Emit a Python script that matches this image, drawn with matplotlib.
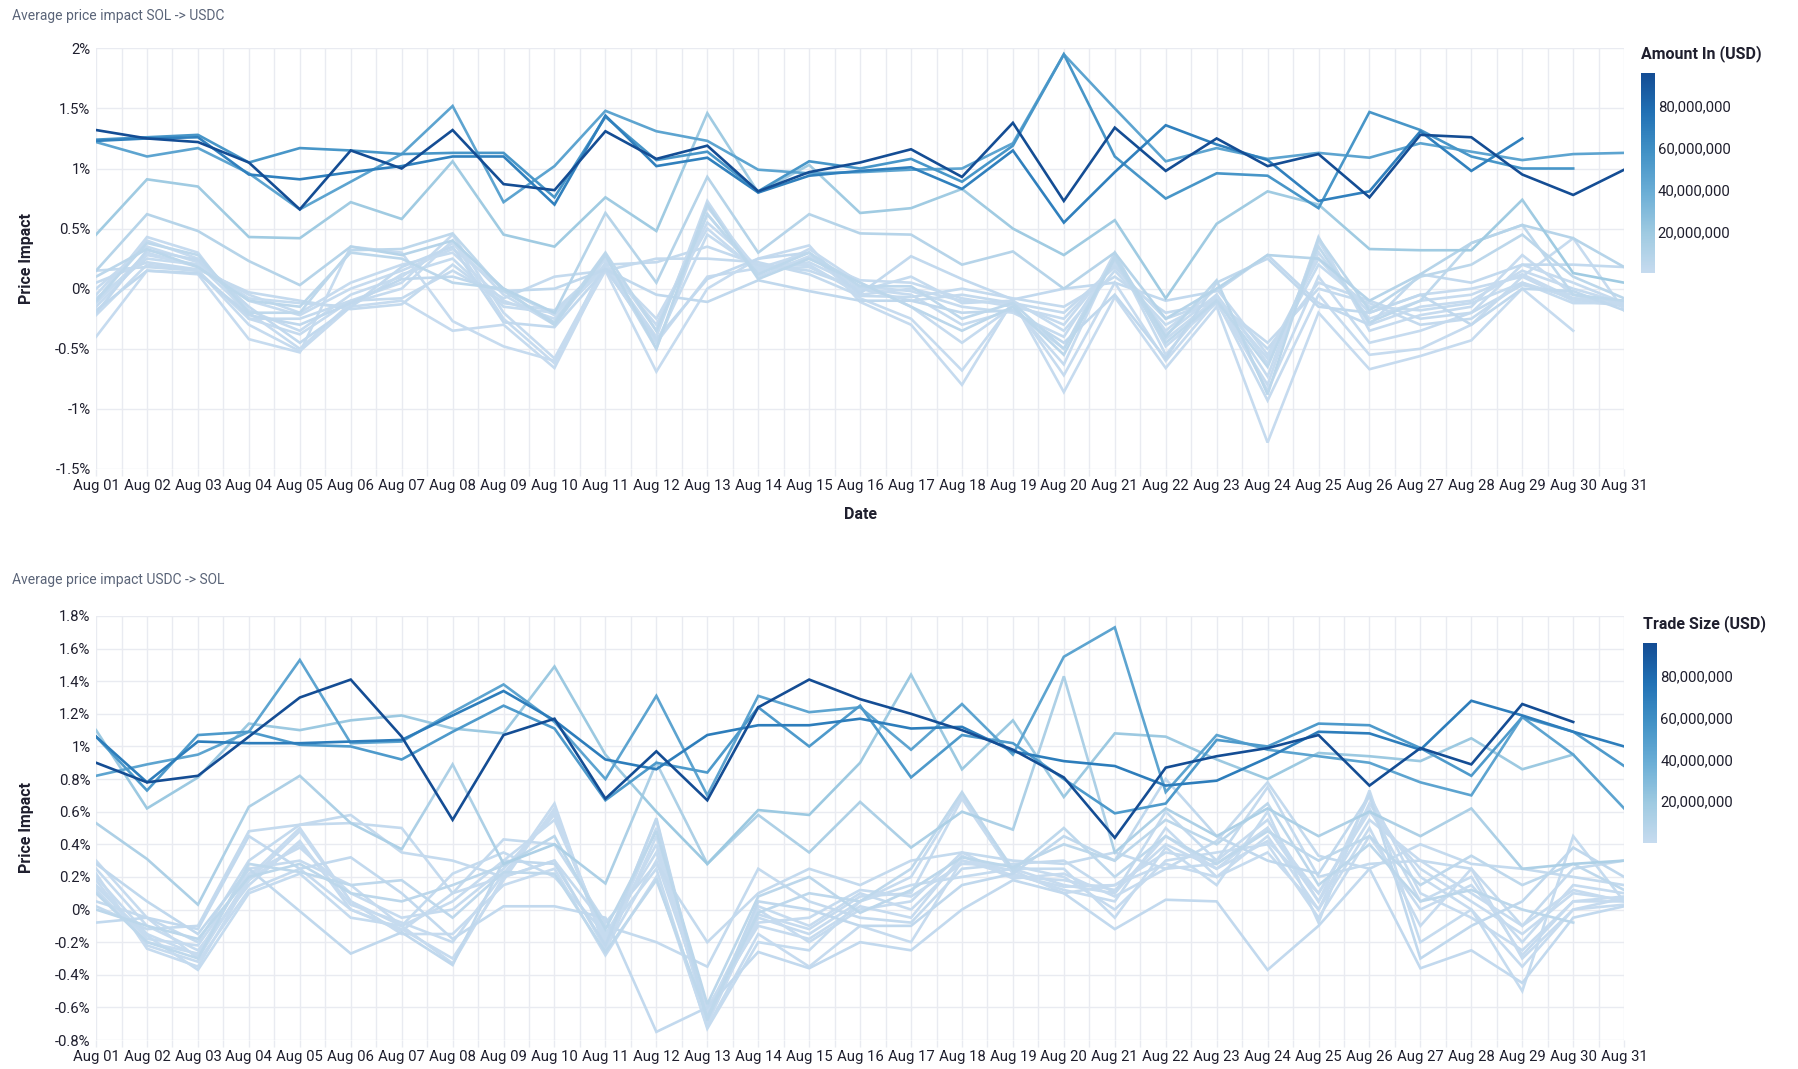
import matplotlib
matplotlib.use("Agg")
import matplotlib.pyplot as plt
import numpy as np
from matplotlib.colors import LinearSegmentedColormap, Normalize
from matplotlib.ticker import FuncFormatter, MultipleLocator
import matplotlib.cm as cm

nan = np.nan
days = list(range(1, 32))
day_labels = ["Aug %02d" % d for d in days]

# ---- SOL -> USDC : trade size (USD) and average price impact (%) per day ----
sell_sizes = [1000, 5000, 10000, 25000, 50000, 100000, 250000, 500000, 750000,
              1000000, 2000000, 3000000, 4000000, 5000000,
              8000000, 18000000, 45000000, 55000000, 68000000, 95000000]
sell_impact = [
    [-0.40, 0.15, 0.12, -0.42, -0.53, 0.35, 0.30, -0.27, -0.48, -0.60, 0.15, -0.69, 0.00, 0.25, 0.36, -0.11, -0.30, -0.80, -0.10, -0.86, -0.07, -0.66, -0.15, -1.28, -0.20, -0.67, -0.56, -0.43, 0.00, -0.35, nan],
    [-0.22, 0.20, 0.15, -0.30, -0.52, -0.15, -0.10, -0.35, -0.30, -0.66, 0.18, -0.45, 0.10, 0.17, 0.30, -0.08, -0.25, -0.68, -0.12, -0.72, 0.05, -0.60, -0.10, -0.93, -0.05, -0.55, -0.50, -0.30, 0.10, 0.42, -0.18],
    [-0.15, 0.28, 0.20, -0.20, -0.50, -0.12, 0.00, 0.40, -0.25, -0.62, 0.22, -0.50, 0.62, 0.12, 0.33, 0.05, -0.15, -0.45, -0.15, -0.63, 0.28, -0.55, -0.05, -0.85, 0.10, -0.45, -0.35, -0.20, 0.20, 0.05, -0.12],
    [-0.10, 0.43, 0.30, -0.25, -0.38, -0.10, 0.05, 0.45, -0.20, -0.58, 0.20, -0.40, 0.73, 0.10, 0.27, 0.00, -0.05, -0.30, -0.18, -0.50, 0.30, -0.48, -0.12, -0.80, 0.43, -0.35, -0.22, -0.15, 0.28, -0.05, -0.15],
    [-0.05, 0.40, 0.25, -0.18, -0.35, -0.05, 0.10, 0.38, -0.05, -0.30, 0.25, -0.35, 0.68, 0.15, 0.22, 0.02, -0.02, -0.15, -0.20, -0.40, 0.25, -0.42, -0.08, -0.73, 0.40, -0.30, -0.15, -0.10, 0.15, 0.00, -0.12],
    [0.00, 0.35, 0.22, -0.10, -0.22, 0.00, 0.15, 0.33, 0.00, -0.22, 0.20, -0.30, 0.55, 0.18, 0.20, -0.05, 0.00, -0.10, -0.12, -0.30, 0.22, -0.38, -0.05, -0.62, 0.30, -0.25, -0.10, -0.05, 0.12, -0.08, -0.10],
    [-0.12, 0.30, 0.18, -0.05, -0.20, 0.05, 0.20, 0.30, -0.10, -0.25, 0.18, -0.25, 0.50, 0.14, 0.25, 0.07, 0.05, -0.08, -0.15, -0.25, 0.20, -0.35, 0.00, -0.55, 0.25, -0.20, -0.05, 0.00, 0.10, -0.10, -0.14],
    [-0.08, 0.25, 0.20, -0.08, -0.12, -0.15, 0.12, 0.25, -0.15, -0.20, 0.17, -0.45, 0.45, 0.16, 0.18, -0.02, 0.10, -0.12, -0.10, -0.35, 0.15, -0.30, -0.08, -0.58, 0.20, -0.15, -0.18, -0.12, 0.05, -0.12, -0.12],
    [0.05, 0.22, 0.16, -0.03, -0.10, -0.17, -0.13, 0.20, -0.12, -0.18, 0.20, 0.22, 0.35, 0.20, 0.15, 0.00, -0.10, -0.05, -0.12, -0.20, 0.18, -0.25, -0.10, -0.50, 0.05, -0.10, -0.25, -0.20, 0.03, -0.05, -0.12],
    [0.15, 0.18, 0.15, -0.25, -0.25, -0.10, -0.08, 0.15, -0.08, 0.10, 0.15, 0.25, 0.25, 0.22, 0.12, -0.06, -0.07, 0.00, -0.08, -0.15, 0.10, -0.20, -0.12, -0.45, 0.00, -0.12, -0.30, -0.25, 0.05, -0.08, -0.14],
    [-0.20, 0.32, 0.24, -0.15, -0.45, -0.15, 0.18, 0.35, -0.28, -0.32, 0.16, -0.42, 0.08, 0.25, 0.30, -0.04, 0.27, 0.08, -0.09, 0.00, 0.05, -0.10, -0.02, 0.28, -0.12, -0.30, 0.12, 0.05, 0.20, 0.20, 0.18],
    [-0.18, 0.15, 0.13, -0.22, -0.30, -0.12, 0.08, 0.10, -0.02, 0.00, 0.16, -0.05, -0.11, 0.07, -0.02, -0.10, -0.10, -0.20, -0.18, -0.45, -0.05, -0.58, 0.05, 0.25, -0.15, -0.20, -0.05, -0.30, 0.00, -0.02, -0.18],
    [-0.10, 0.38, 0.28, -0.20, -0.20, 0.32, 0.33, 0.46, -0.02, -0.28, 0.30, -0.35, 0.62, 0.12, 0.30, 0.02, 0.02, -0.25, -0.12, -0.50, 0.25, -0.45, -0.10, -0.65, 0.35, -0.28, -0.10, 0.38, 0.53, -0.05, -0.10],
    [0.10, 0.33, 0.18, -0.10, -0.15, 0.30, 0.25, 0.05, 0.00, -0.30, 0.28, -0.50, 0.70, 0.08, 0.25, 0.05, -0.15, -0.35, -0.15, -0.55, 0.27, -0.40, 0.07, -0.88, 0.42, -0.18, 0.10, 0.20, 0.45, 0.10, -0.08],
    [0.15, 0.62, 0.48, 0.23, 0.03, 0.35, 0.28, 0.40, 0.00, -0.20, 0.63, 0.05, 0.93, 0.30, 0.62, 0.46, 0.45, 0.20, 0.31, 0.00, 0.30, -0.25, 0.00, 0.28, 0.25, -0.10, 0.12, 0.38, 0.53, 0.42, 0.18],
    [0.45, 0.91, 0.85, 0.43, 0.42, 0.72, 0.58, 1.06, 0.45, 0.35, 0.76, 0.48, 1.46, 0.80, 1.03, 0.63, 0.67, 0.83, 0.50, 0.28, 0.57, -0.08, 0.54, 0.81, 0.70, 0.33, 0.32, 0.32, 0.74, 0.13, 0.05],
    [1.22, 1.10, 1.17, 0.96, 0.66, 0.89, 1.12, 1.52, 0.72, 1.02, 1.48, 1.31, 1.23, 0.99, 0.96, 0.97, 0.99, 1.00, 1.21, 1.95, 1.50, 1.06, 1.17, 1.08, 1.13, 1.09, 1.21, 1.14, 1.07, 1.12, 1.13],
    [1.24, 1.26, 1.28, 1.05, 1.17, 1.15, 1.12, 1.13, 1.13, 0.76, 1.43, 1.07, 1.14, 0.81, 1.06, 1.00, 1.08, 0.89, 1.19, 1.95, 1.10, 0.75, 0.96, 0.94, 0.67, 1.47, 1.32, 1.10, 1.00, 1.00, nan],
    [1.23, 1.25, 1.26, 0.95, 0.91, 0.97, 1.02, 1.10, 1.10, 0.70, 1.44, 1.02, 1.09, 0.80, 0.94, 0.98, 1.01, 0.83, 1.15, 0.55, 0.97, 1.36, 1.20, 1.07, 0.73, 0.81, 1.31, 0.98, 1.25, nan, nan],
    [1.32, 1.25, 1.22, 1.05, 0.66, 1.15, 1.00, 1.32, 0.87, 0.82, 1.31, 1.08, 1.19, 0.81, 0.97, 1.05, 1.16, 0.93, 1.38, 0.73, 1.34, 0.98, 1.25, 1.02, 1.12, 0.76, 1.28, 1.26, 0.95, 0.78, 0.99],
]

# ---- USDC -> SOL ----
buy_sizes = [1000, 5000, 10000, 25000, 50000, 100000, 250000, 500000, 750000,
             1000000, 2000000, 3000000, 4000000, 5000000,
             12000000, 20000000, 45000000, 52000000, 70000000, 95000000]
buy_impact = [
    [0.30, -0.05, -0.30, 0.20, 0.50, 0.05, -0.10, -0.33, 0.20, 0.65, -0.25, 0.45, -0.65, -0.05, -0.15, 0.05, 0.20, 0.70, 0.25, 0.15, 0.10, 0.45, 0.25, 0.50, 0.05, 0.70, 0.10, -0.05, -0.25, 0.05, 0.05],
    [0.25, -0.10, -0.25, 0.15, 0.42, 0.00, -0.12, -0.30, 0.18, 0.62, -0.20, 0.55, -0.70, -0.03, -0.12, 0.08, 0.10, 0.68, 0.22, 0.12, 0.05, 0.50, 0.20, 0.45, 0.00, 0.65, 0.20, 0.00, -0.35, 0.00, 0.07],
    [0.20, -0.15, -0.28, 0.18, 0.40, 0.03, -0.08, -0.20, 0.22, 0.60, -0.22, 0.50, -0.62, 0.00, -0.20, 0.00, 0.05, 0.35, 0.20, 0.18, 0.12, 0.40, 0.25, 0.42, 0.10, 0.60, 0.25, 0.05, -0.15, 0.10, 0.06],
    [0.15, -0.18, -0.22, 0.22, 0.38, 0.10, -0.05, 0.00, 0.25, 0.58, -0.18, 0.40, -0.68, 0.02, -0.10, 0.10, 0.00, 0.30, 0.24, 0.10, 0.15, 0.35, 0.30, 0.55, 0.05, 0.55, 0.30, 0.10, -0.10, 0.12, 0.05],
    [0.12, -0.20, -0.27, 0.25, 0.30, 0.15, -0.10, 0.05, 0.30, 0.55, -0.15, 0.35, -0.64, -0.08, -0.05, 0.12, 0.08, 0.28, 0.27, 0.20, 0.00, 0.30, 0.35, 0.40, -0.05, 0.45, 0.00, 0.15, -0.20, 0.15, 0.10],
    [0.18, -0.22, -0.32, 0.12, 0.25, 0.00, -0.13, 0.10, 0.20, 0.30, -0.24, 0.30, -0.60, -0.10, -0.18, 0.02, -0.05, 0.33, 0.19, 0.22, 0.08, 0.25, 0.28, 0.50, 0.10, 0.62, 0.05, 0.20, -0.28, 0.05, 0.08],
    [0.22, -0.24, -0.35, 0.18, 0.48, 0.05, -0.15, -0.15, 0.15, 0.25, -0.28, 0.20, -0.72, -0.15, -0.35, -0.10, -0.20, 0.30, 0.21, 0.14, 0.15, 0.28, 0.20, 0.35, 0.00, 0.50, -0.10, 0.25, -0.30, 0.00, 0.03],
    [0.14, -0.16, -0.37, 0.10, 0.22, -0.05, -0.10, 0.22, 0.35, 0.20, -0.15, 0.25, -0.73, -0.20, -0.25, 0.05, 0.15, 0.20, 0.25, 0.25, -0.05, 0.38, 0.15, 0.60, -0.08, 0.73, -0.20, 0.00, -0.50, 0.45, 0.05],
    [0.05, -0.05, -0.20, 0.30, 0.52, 0.58, 0.35, 0.30, 0.20, 0.30, -0.10, -0.20, -0.35, 0.25, 0.05, -0.05, -0.08, 0.25, 0.28, 0.30, 0.10, 0.60, 0.30, 0.75, 0.20, 0.28, 0.30, 0.25, -0.10, 0.25, 0.30],
    [0.02, -0.12, -0.10, 0.48, 0.52, 0.53, 0.50, 0.10, 0.43, 0.40, -0.08, 0.28, -0.20, 0.10, 0.25, 0.15, 0.30, 0.35, 0.30, 0.28, 0.35, 0.25, 0.42, 0.78, 0.33, 0.25, 0.40, 0.28, 0.25, 0.20, 0.15],
    [-0.08, -0.05, -0.12, 0.45, 0.25, 0.32, 0.10, -0.18, 0.02, 0.02, -0.05, -0.75, -0.60, -0.26, -0.36, -0.20, -0.25, 0.00, 0.18, 0.10, -0.12, 0.06, 0.05, -0.37, -0.10, 0.25, -0.36, -0.25, -0.45, -0.05, 0.02],
    [0.28, 0.05, -0.15, 0.25, -0.01, -0.27, -0.14, -0.34, 0.30, 0.28, -0.22, 0.56, -0.68, 0.05, 0.00, -0.10, -0.10, 0.15, 0.22, 0.45, 0.30, 0.80, 0.45, 0.30, 0.22, 0.70, -0.30, -0.10, 0.05, 0.38, 0.20],
    [0.10, -0.20, -0.30, 0.28, 0.23, 0.15, 0.18, -0.05, 0.23, 0.22, -0.26, 0.18, -0.66, -0.02, 0.10, 0.05, 0.25, 0.72, 0.24, 0.50, 0.20, 0.45, 0.28, 0.48, 0.30, 0.45, 0.15, 0.33, 0.15, 0.28, 0.12],
    [0.00, -0.10, -0.18, 0.20, 0.28, 0.10, 0.05, 0.15, 0.27, 0.45, -0.12, 0.48, -0.58, 0.08, 0.20, -0.02, 0.12, 0.32, 0.26, 0.40, 0.30, 0.55, 0.40, 0.65, 0.15, 0.40, 0.05, 0.12, 0.00, -0.08, nan],
    [0.53, 0.31, 0.03, 0.63, 0.82, 0.53, 0.37, 0.89, 0.28, 0.40, 0.16, 0.90, 0.28, 0.58, 0.35, 0.66, 0.38, 0.60, 0.49, 1.43, 0.35, 0.62, 0.45, 0.62, 0.45, 0.60, 0.45, 0.62, 0.25, 0.28, 0.30],
    [1.10, 0.62, 0.81, 1.14, 1.10, 1.16, 1.19, 1.11, 1.08, 1.49, 0.95, 0.60, 0.28, 0.61, 0.58, 0.90, 1.44, 0.86, 1.16, 0.69, 1.08, 1.06, 0.92, 0.80, 0.96, 0.94, 0.91, 1.05, 0.86, 0.95, nan],
    [0.82, 0.89, 0.95, 1.09, 1.53, 1.02, 1.03, 1.21, 1.38, 1.15, 0.80, 1.31, 0.70, 1.31, 1.21, 1.24, 0.98, 1.26, 0.95, 1.55, 1.73, 0.72, 1.07, 0.98, 0.94, 0.90, 0.78, 0.70, 1.18, 0.95, 0.62],
    [1.06, 0.73, 1.07, 1.09, 1.01, 1.00, 0.92, 1.09, 1.25, 1.11, 0.67, 0.90, 0.84, 1.24, 1.00, 1.25, 0.81, 1.07, 1.02, 0.80, 0.59, 0.65, 1.04, 1.00, 1.14, 1.13, 0.99, 0.82, 1.18, 1.09, 0.88],
    [1.06, 0.78, 1.03, 1.02, 1.02, 1.03, 1.04, 1.19, 1.34, 1.16, 0.92, 0.86, 1.07, 1.13, 1.13, 1.17, 1.11, 1.12, 0.97, 0.91, 0.88, 0.76, 0.79, 0.93, 1.09, 1.08, 0.98, 1.28, 1.19, 1.09, 1.00],
    [0.90, 0.78, 0.82, 1.06, 1.30, 1.41, 1.06, 0.55, 1.07, 1.17, 0.68, 0.97, 0.67, 1.24, 1.41, 1.29, 1.20, 1.10, 0.98, 0.81, 0.44, 0.87, 0.94, 0.99, 1.07, 0.76, 0.99, 0.89, 1.26, 1.15, nan],
]

# colour scale of the trade size
blues = LinearSegmentedColormap.from_list(
    "blues", ["#c6dbef", "#9ecae1", "#6baed6", "#4292c6", "#2171b5", "#134c93"])
norm = Normalize(vmin=0, vmax=96000000)

plt.rcParams['font.family'] = ['Roboto', 'DejaVu Sans']
fig = plt.figure(figsize=(17.99, 10.69), dpi=100)

grid_c = "#e9ebf1"
txt_c = "#1f1f2e"


def draw(ax, sizes, impact, ylo, yhi, ystep, title, ty, cax, ctitle, show_date):
    # smaller trades first so the big ones sit on top
    for s, vals in sorted(zip(sizes, impact), key=lambda p: p[0]):
        ax.plot(days, vals, color=blues(norm(s)), lw=1.9, solid_joinstyle='miter')
    ax.set_xlim(1, 31)
    ax.set_ylim(ylo, yhi)
    ax.set_xticks(days)
    ax.set_xticklabels(day_labels)
    ax.xaxis.set_minor_locator(MultipleLocator(0.5))
    ax.yaxis.set_major_locator(MultipleLocator(ystep))
    ax.yaxis.set_major_formatter(FuncFormatter(lambda v, p: ("%.1f" % v).rstrip('0').rstrip('.') + "%"))
    ax.grid(True, which='both', axis='x', color=grid_c, lw=1)
    ax.grid(True, which='major', axis='y', color=grid_c, lw=1)
    ax.set_axisbelow(True)
    for sp in ax.spines.values():
        sp.set_visible(False)
    ax.tick_params(axis='y', length=0, labelsize=10.7, colors=txt_c, pad=4)
    ax.tick_params(axis='x', which='both', length=5, width=1, color=grid_c,
                   labelsize=10.7, labelcolor=txt_c, pad=2)
    ax.set_ylabel("Price Impact", fontsize=11.5, fontweight='bold', color=txt_c)
    ax.yaxis.set_label_coords(-0.0405, 0.5)
    if show_date:
        ax.set_xlabel("Date", fontsize=11.5, fontweight='bold', color=txt_c)
        ax.xaxis.set_label_coords(0.5, -0.09)
    fig.text(0.0068, ty, title, fontsize=10, color="#5a6478", va='center')

    sm = cm.ScalarMappable(norm=norm, cmap=blues)
    cb = fig.colorbar(sm, cax=cax, ticks=[20000000, 40000000, 60000000, 80000000])
    cb.outline.set_visible(False)
    cb.ax.tick_params(length=0, labelsize=10.7, colors=txt_c, pad=2)
    cb.ax.yaxis.set_major_formatter(FuncFormatter(lambda v, p: "{:,.0f}".format(v)))
    cax.text(0.0, 1.055, ctitle, transform=cax.transAxes, fontsize=11.5,
             fontweight='bold', color=txt_c, ha='left', va='bottom')


ax1 = fig.add_axes([0.0534, 0.5613, 0.8494, 0.3935])
cax1 = fig.add_axes([0.9122, 0.7445, 0.0078, 0.1875])
draw(ax1, sell_sizes, sell_impact, -1.5, 2.0, 0.5,
     "Average price impact SOL -> USDC", 0.985, cax1, "Amount In (USD)", True)

ax2 = fig.add_axes([0.0534, 0.0271, 0.8494, 0.3967])
cax2 = fig.add_axes([0.9135, 0.2114, 0.0078, 0.1875])
draw(ax2, buy_sizes, buy_impact, -0.8, 1.8, 0.2,
     "Average price impact USDC -> SOL", 0.4574, cax2, "Trade Size (USD)", False)

fig.savefig("out.png", dpi=100, facecolor='white')
